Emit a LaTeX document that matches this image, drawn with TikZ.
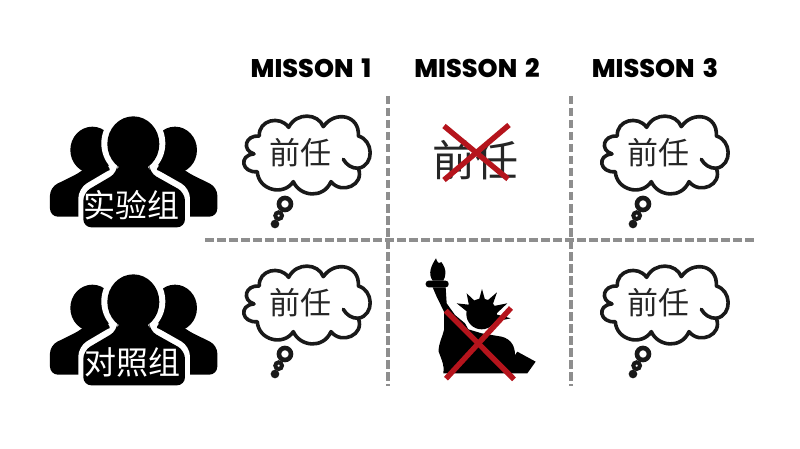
\documentclass[tikz,border=0pt]{standalone}
\usepackage{fontspec}
\setmainfont{Poppins}
\newfontfamily\cjk{Noto Sans CJK SC}
\newfontfamily\heavy{Poppins ExtraBold}
\definecolor{xred}{HTML}{B5141C}
\definecolor{dashgray}{HTML}{8E8E8E}
\tikzset{
  grid line/.style={draw=dashgray,line width=3.4pt,dash pattern=on 8.5pt off 3.5pt},
  title/.style={font=\heavy\fontsize{25.5}{26}\selectfont,text=black,inner sep=0pt,anchor=center},
  word/.style={font=\cjk\fontsize{31}{31}\selectfont,text=black!85,inner sep=0pt},
  label/.style={font=\cjk\fontsize{32}{32}\selectfont,text=white,inner sep=0pt},
  cross/.style={draw=xred,line width=5.4pt},
  cloudline/.style={draw=black!90,line width=3.6pt,line cap=round,line join=round,fill=white},
  cloud/.pic={
    \begin{scope}[x=0.3333pt,y=-0.3333pt]
    \draw[cloudline] (672,162) .. controls (635,150) and (645,105) .. (688,108)
      .. controls (685,60) and (750,45) .. (776,82)
      .. controls (800,35) and (865,40) .. (880,80)
      .. controls (915,30) and (990,45) .. (985,108)
      .. controls (1030,120) and (1035,195) .. (985,205)
      .. controls (1005,255) and (935,285) .. (903,245)
      .. controls (880,298) and (810,290) .. (790,245)
      .. controls (760,290) and (685,270) .. (682,215)
      .. controls (635,220) and (625,165) .. (672,162);
    \draw[cloudline,fill=none] (985,205) .. controls (965,205) and (950,195) .. (940,178);
    \draw[draw=black!90,line width=4.6pt,fill=white] (765,312) circle[radius=18];
    \draw[draw=black!90,line width=4pt,fill=white] (746,347) circle[radius=10];
    \fill[black!90] (735,372) circle[radius=13];
    \end{scope}
  },
  people/.pic={
    \begin{scope}[x=0.3333pt,y=-0.3333pt]
    % side figures
    \fill (187,150) ellipse[x radius=66,y radius=70];
    \fill (435,150) ellipse[x radius=66,y radius=70];
    \fill[rounded corners=8pt] (60,350) -- (60,262) -- (155,215) -- (180,190) -- (240,190) -- (240,350) -- cycle;
    \fill[rounded corners=8pt] (562,350) -- (562,262) -- (467,215) -- (440,190) -- (380,190) -- (380,350) -- cycle;
    % white halo and main figure
    \fill[white] (310,130) ellipse[x radius=96,y radius=102];
    \fill[white,rounded corners=10pt] (145,395) -- (145,265) -- (255,200) -- (365,200) -- (480,265) -- (480,395) -- cycle;
    \fill (310,132) ellipse[x radius=78,y radius=83];
    \fill[rounded corners=8pt] (160,382) -- (160,278) -- (262,218) -- (262,190) -- (358,190) -- (358,218) -- (465,278) -- (465,382) -- cycle;
    \end{scope}
  }
}
\begin{document}
\begin{tikzpicture}[x=1pt,y=-1pt]
\useasboundingbox[fill=white] (0,0) rectangle (800,449);

\node[title] (m1) at (311,68) {MISSON\hspace{3pt} 1};
\node[title] (m2) at (477,68) {MISSON\hspace{3pt} 2};
\node[title] (m3) at (655,68) {MISSON\hspace{3pt} 3};

\draw[grid line] (205,240) -- (755,240);
\draw[grid line] (388,96) -- (388,386);
\draw[grid line] (571,96) -- (571,386);

% people (local zoom frame origin 30,100)
\pic at (30,100) {people};
\pic at (30,258) {people};
\node[label] (g1) at (131,205) {实验组};
\node[label] (g2) at (132,362) {对照组};

% clouds
\pic at (30,100) {cloud};
\pic at (30,250) {cloud};
\pic at (388,100) {cloud};
\pic at (388,250) {cloud};
\node[word] (c11) at (300,153) {前任};
\node[word] (c12) at (300,303) {前任};
\node[word] (c31) at (658,153) {前任};
\node[word] (c32) at (658,303) {前任};

% crossed word
\node[word,font=\cjk\fontsize{43}{43}\selectfont] (c21) at (475,160) {前任};
\draw[cross] (444,126) -- (508,179);
\draw[cross] (509,125) -- (444,180);

% statue (zoom frame origin 400,240)
\begin{scope}[shift={(400,240)},x=0.3333pt,y=-0.3333pt]
\fill[black] (98,122) .. controls (82,100) and (95,75) .. (108,55)
  .. controls (112,68) and (116,72) .. (124,66) .. controls (142,90) and (137,110) .. (130,122) -- cycle;
\fill[black,rounded corners=3pt] (77,122) -- (146,122) -- (146,142) -- (77,142) -- cycle;
\fill[black] (98,142) -- (137,142) -- (140,190) -- (165,225) -- (195,250) -- (205,268)
  -- (245,280) -- (305,290) .. controls (335,298) and (345,320) .. (345,345)
  -- (352,335) -- (407,365) -- (382,400) -- (130,400)
  .. controls (135,380) and (125,360) .. (116,335)
  .. controls (115,310) and (128,290) .. (132,270) -- (132,215) -- (110,170) -- cycle;
\fill[black] (245,222) circle[radius=46];
\fill[black] (200,160) -- (232,190) -- (208,202) -- cycle
  (246,147) -- (258,190) -- (234,190) -- cycle
  (291,157) -- (276,200) -- (255,188) -- cycle
  (322,190) -- (288,222) -- (272,200) -- cycle
  (170,190) -- (215,195) -- (205,218) -- cycle
  (332,235) -- (285,245) -- (285,222) -- cycle;
\draw[cross] (137,212) -- (342,418);
\draw[cross] (333,204) -- (138,416);
\end{scope}
\end{tikzpicture}
\end{document}
